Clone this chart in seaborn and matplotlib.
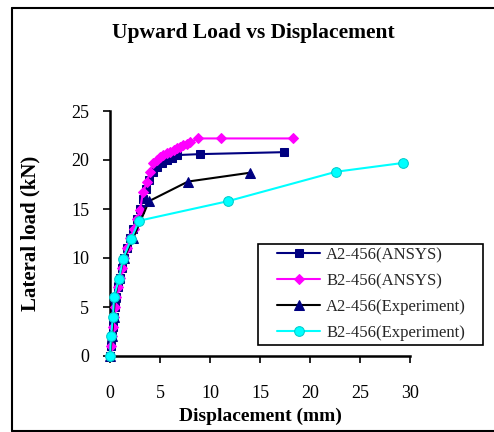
import matplotlib
matplotlib.use("Agg")
import matplotlib.pyplot as plt
import seaborn as sns
import pandas as pd
from matplotlib.patches import Rectangle
from matplotlib.lines import Line2D

# ---- data ----
a2_ansys_x = [0, 0.1, 0.2, 0.3, 0.4, 0.5, 0.6, 0.8, 1.0, 1.2, 1.4, 1.7, 2.0, 2.3, 2.7, 3.0, 3.3, 3.6, 3.9, 4.3, 4.7, 5.2, 5.7, 6.2, 6.7, 9.0, 17.4]
a2_ansys_y = [0, 1, 2, 3, 4, 5, 6, 7, 8, 9, 10, 11, 12, 13, 14, 15, 16, 17, 18, 18.8, 19.3, 19.7, 20.0, 20.2, 20.5, 20.6, 20.8]

b2_ansys_x = [0, 0.1, 0.2, 0.3, 0.4, 0.5, 0.6, 0.8, 1.0, 1.2, 1.4, 1.7, 2.0, 2.4, 2.7, 3.0, 3.3, 3.7, 4.0, 4.3, 4.7, 5.0, 5.3, 5.7, 6.0, 6.4, 6.7, 7.0, 7.3, 7.7, 8.0, 8.8, 11.1, 18.3]
b2_ansys_y = [0, 1, 2, 3, 4, 5, 6, 7, 8, 9, 10, 11, 12, 13, 14, 14.9, 16.7, 17.8, 18.8, 19.7, 20.0, 20.3, 20.5, 20.7, 20.8, 21.0, 21.2, 21.3, 21.5, 21.6, 21.8, 22.2, 22.2, 22.2]

a2_exp_x = [0, 0.2, 0.35, 0.5, 0.9, 1.4, 2.3, 3.9, 7.8, 14.0]
a2_exp_y = [0, 2, 4, 6, 8, 10, 12, 15.8, 17.8, 18.7]

b2_exp_x = [0, 0.1, 0.3, 0.4, 0.9, 1.3, 2.1, 2.9, 11.8, 22.6, 29.3]
b2_exp_y = [0, 2, 4, 6, 7.9, 9.9, 11.9, 13.8, 15.8, 18.8, 19.7]

series_names = ["A2-456(ANSYS)", "B2-456(ANSYS)", "A2-456(Experiment)", "B2-456(Experiment)"]
x_ticks = [0, 5, 10, 15, 20, 25, 30]
y_ticks = [0, 5, 10, 15, 20, 25]

sns.set_theme(style="white")
plt.rcParams["font.family"] = ["Liberation Serif", "DejaVu Serif"]

W, H = 494, 432
fig = plt.figure(figsize=(W / 100, H / 100), dpi=100)
ax = fig.add_axes([110 / W, 1 - 356 / H, 300 / W, 245 / H])

styles = [
    dict(color="#000080", marker="s", markersize=6, markerfacecolor="#000080", markeredgecolor="#000080"),
    dict(color="#FF00FF", marker="D", markersize=5.5, markerfacecolor="#FF00FF", markeredgecolor="#FF00FF"),
    dict(color="black", marker="^", markersize=7, markerfacecolor="#000080", markeredgecolor="#000080"),
    dict(color="#00FFFF", marker="o", markersize=7, markerfacecolor="#00FFFF", markeredgecolor="#00CCCC"),
]
data = [(a2_ansys_x, a2_ansys_y), (b2_ansys_x, b2_ansys_y), (a2_exp_x, a2_exp_y), (b2_exp_x, b2_exp_y)]

for (xs, ys), name, st in zip(data, series_names, styles):
    df = pd.DataFrame({"x": xs, "y": ys})
    sns.lineplot(data=df, x="x", y="y", sort=False, estimator=None, ax=ax,
                 label=name, linewidth=1.5, clip_on=False, zorder=3, **st)

ax.set_xlim(0, 30)
ax.set_ylim(0, 25)
ax.set_xticks(x_ticks)
ax.set_yticks(y_ticks)
ax.set_facecolor("white")
for s in ["top", "right"]:
    ax.spines[s].set_visible(False)
for s in ["left", "bottom"]:
    ax.spines[s].set_color("black")
    ax.spines[s].set_linewidth(1.8)
ax.tick_params(axis="both", direction="out", length=5, width=1.2, color="black",
               labelsize=13, labelcolor="black", bottom=True, left=True)
ax.tick_params(axis="x", pad=16)
ax.tick_params(axis="y", pad=10)

ax.set_xlabel("Displacement (mm)", fontsize=14, fontweight="bold", color="black", labelpad=4)
ax.set_ylabel("Lateral load (kN)", fontsize=15, fontweight="bold", color="black", labelpad=22)

fig.text(253 / W, 1 - 33 / H, "Upward Load vs Displacement", ha="center", va="center",
         fontsize=15.5, fontweight="bold", color="black")

leg = ax.legend(loc="upper left", bbox_to_anchor=(277 / W, 1 - 247 / H),
                bbox_transform=fig.transFigure, fontsize=12, frameon=False,
                handlelength=2.6, borderpad=0, labelspacing=0.6,
                handletextpad=0.35, borderaxespad=0)

# legend box
fig.patches.append(Rectangle((258 / W, 1 - 345 / H), (483 - 258) / W, (345 - 244) / H,
                             transform=fig.transFigure, fill=False, edgecolor="black",
                             linewidth=1.2, zorder=10))
# outer chart frame (left, top, bottom edges visible)
x0, yt, yb = 12 / W, 1 - 8 / H, 1 - 431 / H
for xs, ys in [([x0, x0], [yb, yt]), ([x0, 1.0], [yt, yt]), ([x0, 1.0], [yb, yb])]:
    fig.add_artist(Line2D(xs, ys, transform=fig.transFigure, color="black", linewidth=1.5))

fig.savefig("out.png", dpi=100, facecolor="white")
